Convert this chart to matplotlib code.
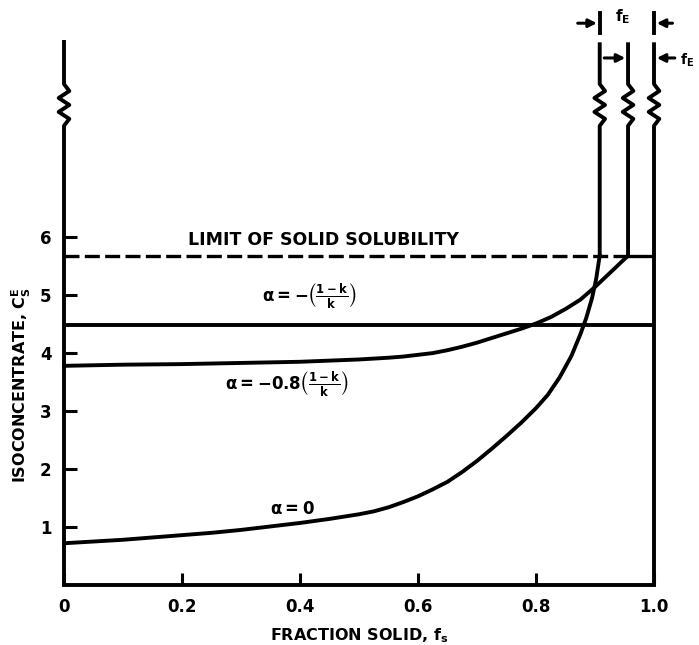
import numpy as np
import matplotlib
matplotlib.use("Agg")
import matplotlib.pyplot as plt

# values
fs_a0 = [0, 0.05, 0.1, 0.15, 0.2, 0.25, 0.3, 0.35, 0.4, 0.45, 0.5, 0.525, 0.55, 0.575, 0.6, 0.625, 0.65,
         0.675, 0.7, 0.725, 0.75, 0.775, 0.8, 0.82, 0.84, 0.86, 0.875, 0.885, 0.895, 0.902, 0.906, 0.908]
cs_a0 = [0.72, 0.75, 0.78, 0.82, 0.86, 0.90, 0.95, 1.01, 1.07, 1.14, 1.22, 1.27, 1.34, 1.43, 1.53, 1.65, 1.78,
         1.95, 2.14, 2.35, 2.57, 2.80, 3.05, 3.28, 3.58, 3.95, 4.32, 4.60, 4.95, 5.28, 5.55, 5.68]

fs_a08 = [0, 0.1, 0.2, 0.3, 0.4, 0.45, 0.5, 0.55, 0.575, 0.6, 0.625, 0.65, 0.675, 0.7, 0.725,
          0.75, 0.775, 0.8, 0.825, 0.85, 0.875, 0.9, 0.925, 0.956]
cs_a08 = [3.78, 3.80, 3.81, 3.83, 3.85, 3.87, 3.89, 3.92, 3.94, 3.97, 4.00, 4.05, 4.11, 4.18, 4.26,
          4.34, 4.42, 4.51, 4.62, 4.76, 4.92, 5.14, 5.38, 5.68]

fs_a1 = [0, 1.0]
cs_a1 = [4.48, 4.48]

limit_solubility = 5.68
fs_end = [0.908, 0.956, 1.0]   # where the curves go vertical (fE marks)

x_ticks = [0, 0.2, 0.4, 0.6, 0.8, 1.0]
x_ticklabels = ["0", "0.2", "0.4", "0.6", "0.8", "1.0"]
y_ticks = [1, 2, 3, 4, 5, 6]

plt.rcParams["font.family"] = "DejaVu Sans"
plt.rcParams["font.weight"] = "bold"
plt.rcParams["mathtext.default"] = "bf"

LW = 2.8
top = 9.36
zz_lo, zz_hi = 7.92, 8.64


def zigzag_line(ax, x, y0, y1):
    # vertical line with a break (zigzag) symbol
    amp = 0.009
    n = 6
    ys = np.linspace(zz_hi, zz_lo, n + 1)
    xs = [x] + [x + (amp if i % 2 else -amp) for i in range(1, n)] + [x]
    px = [x] + xs + [x]
    py = [y1] + list(ys) + [y0]
    ax.plot(px, py, color="black", lw=LW, clip_on=False, solid_capstyle="butt")


fig = plt.figure(figsize=(6.99, 6.45), dpi=100)
ax = fig.add_axes([64 / 699, 60 / 645, 590 / 699, 545 / 645])
ax.set_xlim(0, 1.0)
ax.set_ylim(0, top + 0.04)

for s in ["top", "right", "left"]:
    ax.spines[s].set_visible(False)
ax.spines["bottom"].set_linewidth(LW)

# axes drawn by hand with break marks
zigzag_line(ax, 0, 0, 9.4)
zigzag_line(ax, fs_end[2], 0, top)

# curves
ax.plot(fs_a0, cs_a0, color="black", lw=LW, clip_on=False)
zigzag_line(ax, fs_end[0], cs_a0[-1], top)

ax.plot(fs_a08, cs_a08, color="black", lw=LW, clip_on=False)
zigzag_line(ax, fs_end[1], cs_a08[-1], top)

ax.plot(fs_a1, cs_a1, color="black", lw=LW)

ax.plot([0, fs_end[1]], [limit_solubility] * 2, color="black", lw=LW - 0.4, dashes=(4.5, 1.6))
ax.plot([fs_end[1], fs_end[2]], [limit_solubility] * 2, color="black", lw=LW - 0.4)

# ticks
ax.set_xticks(x_ticks)
ax.set_xticklabels(x_ticklabels)
ax.set_yticks(y_ticks)
ax.tick_params(axis="x", direction="in", length=9, width=2.2, labelsize=12, pad=9)
ax.tick_params(axis="y", direction="in", length=9, width=2.2, labelsize=12, pad=9)

# labels
ax.text(0.5, -0.075, "FRACTION SOLID, $f_s$", transform=ax.transAxes,
        ha="center", va="top", fontsize=11.5)
ax.text(-0.072, 3.45, "ISOCONCENTRATE, $C_S^E$", transform=ax.get_yaxis_transform(),
        rotation=90, ha="center", va="center", fontsize=11.5)

ax.text(0.44, 5.95, "LIMIT OF SOLID SOLUBILITY", ha="center", va="center", fontsize=12.5)
ax.text(0.336, 4.97, r"$\alpha = -\left(\frac{1-k}{k}\right)$", ha="left", va="center", fontsize=12)
ax.text(0.273, 3.45, r"$\alpha = -0.8\left(\frac{1-k}{k}\right)$", ha="left", va="center", fontsize=12)
ax.text(0.35, 1.31, r"$\alpha = 0$", ha="left", va="center", fontsize=12)

# fE dimension marks
ya = 9.69
for xv in [fs_end[0], fs_end[2]]:
    ax.plot([xv, xv], [9.52, 9.87], color="black", lw=LW, clip_on=False)
arr = dict(arrowstyle="-|>", color="black", lw=2.2, mutation_scale=12)
ax.annotate("", xy=(fs_end[0], ya), xytext=(0.866, ya), arrowprops=arr, annotation_clip=False)
ax.annotate("", xy=(fs_end[2], ya), xytext=(1.036, ya), arrowprops=arr, annotation_clip=False)
ax.text(0.947, 9.8, "$f_E$", ha="center", va="center", fontsize=11)

yb = 9.09
ax.annotate("", xy=(fs_end[1], yb), xytext=(fs_end[0] + 0.003, yb), arrowprops=arr, annotation_clip=False)
ax.annotate("", xy=(fs_end[2], yb), xytext=(1.04, yb), arrowprops=arr, annotation_clip=False)
ax.text(1.044, 9.05, "$f_E$", ha="left", va="center", fontsize=10)

fig.savefig("out.png", dpi=100)
